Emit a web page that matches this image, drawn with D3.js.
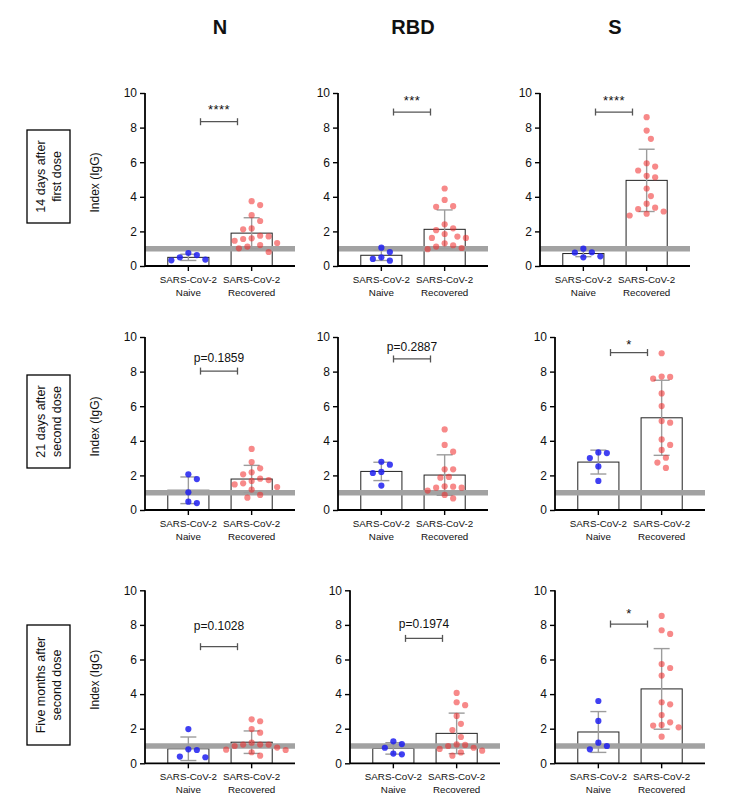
<!DOCTYPE html>
<html>
<head>
<meta charset="utf-8">
<script src="https://cdn.jsdelivr.net/npm/d3@7/dist/d3.min.js"></script>
<style>
  html, body { margin: 0; padding: 0; background: #fff; }
  svg text { font-family: Arial, "Liberation Sans", sans-serif; fill: #111; }
</style>
</head>
<body>
<svg id="chart" width="734" height="808"></svg>
<script>
// ---------------- DATA ----------------
const antigens = ["N", "RBD", "S"];
const groups = ["Naive", "Recovered"];
const timepointLines = [
  ["14 days after", "first dose"],
  ["21 days after", "second dose"],
  ["Five months after", "second dose"]
];
const yTicks = [0, 2, 4, 6, 8, 10];
const threshold = 1;

// individual points, per antigen [N, RBD, S]
const naive14 = [
  [0.75, 0.63, 0.50, 0.37, 0.33],
  [0.81, 0.50, 1.06, 0.41, 0.31],
  [1.00, 0.79, 0.77, 0.56, 0.50]
];
const recovered14 = [
  [3.75, 3.52, 2.94, 2.60, 2.17, 2.12, 1.75, 1.71, 1.60, 1.56, 1.46, 1.33, 1.21, 1.12, 1.02, 0.81],
  [4.48, 3.82, 3.46, 3.42, 2.41, 2.18, 2.07, 1.85, 1.62, 1.70, 1.62, 1.31, 1.20, 1.12, 1.04, 0.97],
  [8.60, 7.83, 7.35, 5.94, 5.75, 5.52, 5.21, 5.13, 4.48, 4.04, 3.60, 3.37, 3.29, 3.15, 3.02, 2.92]
];
const naive21 = [
  [2.06, 1.79, 1.02, 0.48, 0.40],
  [2.62, 2.79, 2.20, 2.14, 1.41],
  [3.33, 3.29, 3.00, 2.52, 1.68]
];
const recovered21 = [
  [3.53, 2.77, 2.41, 2.18, 2.06, 1.81, 1.73, 1.68, 1.48, 1.54, 1.33, 1.18, 0.87, 0.71],
  [4.66, 3.76, 3.37, 2.35, 2.35, 1.91, 1.87, 1.37, 1.29, 1.29, 1.35, 1.12, 0.87, 0.67],
  [9.06, 7.69, 7.59, 7.71, 6.74, 6.01, 5.14, 5.05, 4.08, 3.76, 3.47, 3.02, 2.74, 2.43]
];
const naive5m = [
  [1.98, 0.81, 0.77, 0.39, 0.35],
  [1.27, 1.11, 0.90, 0.56, 0.52],
  [3.60, 2.45, 1.19, 1.00, 0.81]
];
const recovered5m = [
  [2.54, 2.43, 1.98, 1.77, 1.19, 1.08, 1.08, 1.08, 1.00, 0.91, 0.79, 0.77, 0.64, 0.44],
  [4.07, 3.53, 3.36, 2.74, 2.28, 1.92, 1.52, 1.06, 0.90, 0.83, 1.09, 1.00, 0.73, 0.63, 0.44],
  [8.52, 7.48, 7.69, 5.74, 5.51, 5.07, 3.53, 3.41, 2.79, 2.37, 2.22, 2.08, 2.18, 1.54]
];

// bar heights (mean) and error bars (SD): [[naive, recovered] per antigen]
const mean14 = [[0.50, 1.90], [0.62, 2.12], [0.72, 4.95]];
const sd14   = [[0.18, 0.89], [0.30, 1.12], [0.18, 1.80]];
const mean21 = [[1.14, 1.79], [2.23, 2.02], [2.77, 5.33]];
const sd21   = [[0.77, 0.79], [0.53, 1.17], [0.69, 2.17]];
const mean5m = [[0.84, 1.22], [0.86, 1.73], [1.81, 4.30]];
const sd5m   = [[0.68, 0.65], [0.33, 1.17], [1.18, 2.33]];

// significance annotations
const sig14 = ["****", "***", "****"];
const sig21 = ["p=0.1859", "p=0.2887", "*"];
const sig5m = ["p=0.1028", "p=0.1974", "*"];
const bracket14 = [8.34, 8.9, 8.9];
const bracket21 = [8.03, 8.73, 9.1];
const bracket5m = [6.74, 7.22, 8.05];
const label14 = [9.25, 9.79, 9.75];
const label21 = [8.83, 9.44, 9.77];
const label5m = [7.95, 8.09, 8.86];

// ---------------- LAYOUT ----------------
const rows = [
  {naive: naive14, rec: recovered14, mean: mean14, sd: sd14, sig: sig14, br: bracket14, lab: label14},
  {naive: naive21, rec: recovered21, mean: mean21, sd: sd21, sig: sig21, br: bracket21, lab: label21},
  {naive: naive5m, rec: recovered5m, mean: mean5m, sd: sd5m, sig: sig5m, br: bracket5m, lab: label5m}
];
const rowY0 = [266, 510, 763.3];
const colAxisX = [[145, 338, 540], [145, 338, 555], [145, 350, 555]];
const plotW = 150, plotH = 173;
const boxes = [[27, 130, 43, 93], [27, 375, 43, 93], [27, 625, 43, 120]];

const svg = d3.select("#chart");

const naiveColor = "rgba(30,30,240,0.85)";
const recColor = "rgba(240,40,40,0.55)";

function swarm(values, y, cx, spacing) {
  const placed = [];
  const order = values.map((v, i) => i).sort((a, b) => values[b] - values[a]);
  const out = new Array(values.length);
  const step = spacing / 2;
  order.forEach(i => {
    const py = y(values[i]);
    let k = 0, px;
    while (true) {
      const off = (k === 0) ? 0 : (k % 2 === 1 ? 1 : -1) * Math.ceil(k / 2) * step;
      px = cx + off;
      const ok = placed.every(p => Math.hypot(p[0] - px, p[1] - py) >= spacing - 0.01);
      if (ok) break;
      k++;
    }
    placed.push([px, py]);
    out[i] = [px, py];
  });
  return out;
}

// column titles
antigens.forEach((a, c) => {
  svg.append("text")
    .attr("x", colAxisX[0][c] + plotW / 2)
    .attr("y", 34)
    .attr("text-anchor", "middle")
    .style("font-size", "20px")
    .style("font-weight", "bold")
    .text(a);
});

rows.forEach((row, r) => {
  const y0 = rowY0[r];
  // row label box
  const b = boxes[r];
  svg.append("rect")
    .attr("x", b[0]).attr("y", b[1]).attr("width", b[2]).attr("height", b[3])
    .attr("fill", "none").attr("stroke", "#000").attr("stroke-width", 1.3);
  const bcx = b[0] + b[2] / 2, bcy = b[1] + b[3] / 2;
  const tl = svg.append("text")
    .attr("transform", `translate(${bcx},${bcy}) rotate(-90)`)
    .attr("text-anchor", "middle")
    .style("font-size", "12.5px");
  timepointLines[r].forEach((ln, i) => {
    tl.append("tspan").attr("x", 0).attr("y", (i === 0 ? -3.5 : 12)).text(ln);
  });
  // y axis title
  svg.append("text")
    .attr("transform", `translate(99,${y0 - plotH / 2 + 3}) rotate(-90)`)
    .attr("text-anchor", "middle")
    .style("font-size", "12px")
    .text("Index (IgG)");

  antigens.forEach((a, c) => {
    const ax = colAxisX[r][c];
    const g = svg.append("g").attr("transform", `translate(${ax},${y0 - plotH})`);
    const y = d3.scaleLinear().domain([0, 10]).range([plotH, 0]);
    const x = d3.scaleBand().domain(groups).range([0, plotW]).paddingInner(0.35).paddingOuter(0.36);
    const bw = x.bandwidth();
    const means = row.mean[c], sds = row.sd[c];

    // bars
    g.selectAll("rect.bar").data(groups).join("rect")
      .attr("class", "bar")
      .attr("x", d => x(d))
      .attr("y", (d, i) => y(means[i]))
      .attr("width", bw)
      .attr("height", (d, i) => y(0) - y(means[i]))
      .attr("fill", "#fff")
      .attr("stroke", "#222")
      .attr("stroke-width", 1);

    // threshold line
    g.append("line")
      .attr("x1", 0).attr("x2", plotW)
      .attr("y1", y(threshold)).attr("y2", y(threshold))
      .attr("stroke", "#a2a2a2").attr("stroke-width", 5.5);

    // error bars
    groups.forEach((grp, i) => {
      const cx = x(grp) + bw / 2;
      const lo = y(means[i] - sds[i]), hi = y(means[i] + sds[i]);
      const eg = g.append("g").attr("stroke", "#9c9c9c").attr("stroke-width", 1.4);
      eg.append("line").attr("x1", cx).attr("x2", cx).attr("y1", lo).attr("y2", hi);
      eg.append("line").attr("x1", cx - 8).attr("x2", cx + 8).attr("y1", lo).attr("y2", lo);
      eg.append("line").attr("x1", cx - 8).attr("x2", cx + 8).attr("y1", hi).attr("y2", hi);
    });

    // points
    const sets = [row.naive[c], row.rec[c]];
    sets.forEach((vals, i) => {
      const cx = x(groups[i]) + bw / 2;
      const pos = swarm(vals, y, cx, 8.5);
      g.selectAll(null).data(pos).join("circle")
        .attr("cx", d => d[0]).attr("cy", d => d[1]).attr("r", 3.1)
        .attr("fill", i === 0 ? naiveColor : recColor);
    });

    // axes
    const yAxis = d3.axisLeft(y).tickValues(yTicks).tickSize(5).tickPadding(3).tickFormat(d3.format("d"));
    const ya = g.append("g").call(yAxis);
    ya.select(".domain").attr("stroke", "#000").attr("stroke-width", 1.8).attr("d", `M0,${plotH}V0`);
    ya.selectAll(".tick line").attr("stroke", "#000").attr("stroke-width", 1.4);
    ya.selectAll(".tick text").style("font-size", "12px").attr("fill", "#111");

    const xa = g.append("g").attr("transform", `translate(0,${plotH})`);
    xa.append("line").attr("x1", 0).attr("x2", plotW).attr("y1", 0).attr("y2", 0)
      .attr("stroke", "#000").attr("stroke-width", 1.8);
    groups.forEach(grp => {
      const cx = x(grp) + bw / 2;
      xa.append("line").attr("x1", cx).attr("x2", cx).attr("y1", 0).attr("y2", 5)
        .attr("stroke", "#000").attr("stroke-width", 1.4);
      const t = xa.append("text").attr("text-anchor", "middle").style("font-size", "9.8px").attr("fill", "#222");
      t.append("tspan").attr("x", cx).attr("y", 17).text("SARS-CoV-2");
      t.append("tspan").attr("x", cx).attr("y", 29.5).text(grp);
    });

    // significance bracket
    const mid = (x(groups[0]) + x(groups[1]) + bw) / 2 - 1;
    const by = y(row.br[c]);
    const bg = g.append("g").attr("stroke", "#555").attr("stroke-width", 1.3);
    bg.append("line").attr("x1", mid - 18.5).attr("x2", mid + 18.5).attr("y1", by).attr("y2", by);
    bg.append("line").attr("x1", mid - 18.5).attr("x2", mid - 18.5).attr("y1", by - 3.5).attr("y2", by + 3.5);
    bg.append("line").attr("x1", mid + 18.5).attr("x2", mid + 18.5).attr("y1", by - 3.5).attr("y2", by + 3.5);
    const s = row.sig[c];
    const isStar = s.startsWith("*");
    g.append("text")
      .attr("x", mid)
      .attr("y", y(row.lab[c]) + (isStar ? 8 : 4.5))
      .attr("text-anchor", "middle")
      .style("font-size", isStar ? "13px" : "12px")
      .style("letter-spacing", isStar ? "0.5px" : "0px")
      .attr("fill", "#222")
      .text(s);
  });
});
</script>
</body>
</html>
